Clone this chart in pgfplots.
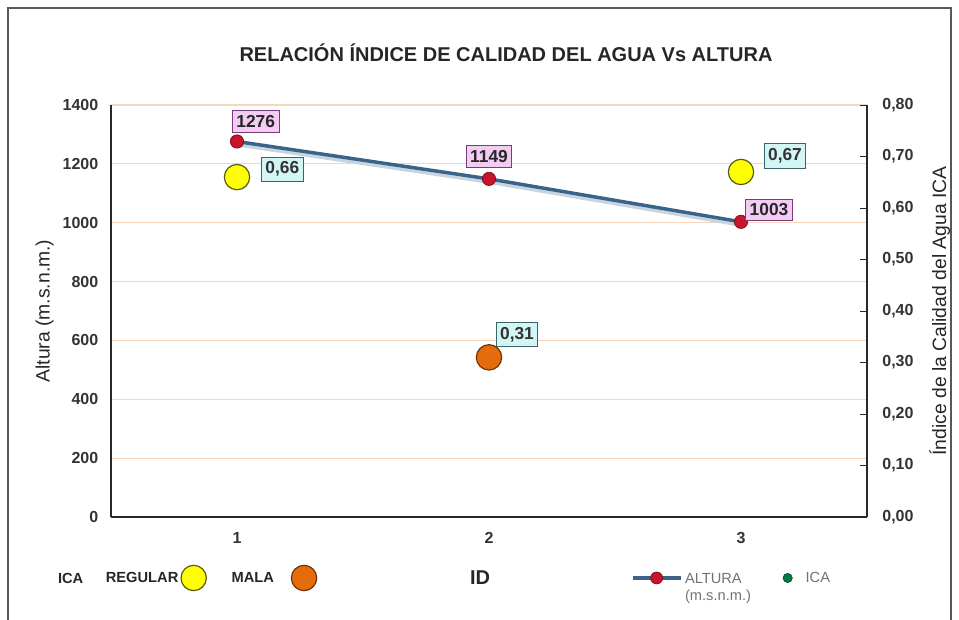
\documentclass[border=0pt]{standalone}
\usepackage{fontspec}
\setmainfont{Liberation Sans}
\usepackage{pgfplots}
\usepackage{pgfplotstable}
\pgfplotsset{compat=1.18}

\definecolor{gridc}{RGB}{246,214,188}
\definecolor{linec}{RGB}{58,100,135}
\definecolor{shadowc}{RGB}{200,212,224}
\definecolor{redm}{RGB}{200,20,45}
\definecolor{yel}{RGB}{255,255,0}
\definecolor{yelb}{RGB}{90,90,20}
\definecolor{ora}{RGB}{228,108,10}
\definecolor{orab}{RGB}{110,50,10}
\definecolor{pinkf}{RGB}{242,204,242}
\definecolor{pinkb}{RGB}{120,60,120}
\definecolor{cyanf}{RGB}{210,246,246}
\definecolor{cyanb}{RGB}{60,100,100}
\definecolor{greend}{RGB}{0,120,70}
\definecolor{axc}{RGB}{40,40,40}

\pgfplotstableread{
x y dx dy
1 1276 14 15
2 1149 0 17
3 1003 21 9
}\altura

\pgfplotstableread{
x y dx dy
1 0.66 34 6
3 0.67 33 12
}\regular

\pgfplotstableread{
x y dx dy
2 0.31 21 17
}\mala

\begin{document}
\begin{tikzpicture}
\useasboundingbox (0,0) rectangle (719.25pt,464.25pt);
\draw[gray!70!black, line width=0.8pt] (6pt,-5pt) -- (6pt,458.25pt) -- (713.25pt,458.25pt) -- (713.25pt,-5pt);

\node[font=\bfseries\fontsize{15}{17}\selectfont, text=black!85] at (379.5pt,424.5pt) {RELACIÓN ÍNDICE DE CALIDAD DEL AGUA Vs ALTURA};
\node[font=\bfseries\fontsize{15}{17}\selectfont, text=black!85] at (360pt,31pt) {ID};
\node[font=\bfseries\fontsize{11}{13}\selectfont, text=black!85, anchor=west] at (40pt,30.75pt) {ICA};

% Altura axis
\begin{axis}[
  at={(83.25pt,76.5pt)}, anchor=south west,
  scale only axis, width=567pt, height=309pt,
  xmin=0.5, xmax=3.5, ymin=0, ymax=1400,
  xtick={1,2,3}, ytick={0,200,...,1400},
  axis x line*=bottom, axis y line*=left,
  axis line style={axc, line width=0.9pt},
  x axis line style={-}, y axis line style={-},
  major tick length=0pt,
  ymajorgrids, major grid style={gridc, line width=0.8pt},
  ticklabel style={font=\bfseries\fontsize{12}{14}\selectfont, text=black!80},
  /pgf/number format/assume math mode=true,
  /pgf/number format/1000 sep={},
  yticklabel style={xshift=-6pt},
  xticklabel style={yshift=-8pt},
  ylabel={Altura (m.s.n.m.)},
  ylabel style={font=\fontsize{14.5}{16}\selectfont, text=black!85, yshift=0pt},
  legend style={at={(0.682,-0.148)}, anchor=west, draw=none, fill=none,
    font=\fontsize{11}{13}\selectfont, text=black!55, legend columns=2,
    /tikz/every even column/.append style={column sep=22pt}},
  clip=false,
]
\addplot[shadowc, line width=3.5pt, forget plot, yshift=-2pt] table[x=x,y=y] {\altura};
\addplot[linec, line width=2.6pt, mark=*, mark size=5pt,
  mark options={fill=redm, draw=redm!60!black, line width=0.5pt},
  legend image code/.code={
    \draw[linec, line width=2.6pt] (0pt,0pt) -- (36pt,0pt);
    \draw[fill=redm, draw=redm!60!black, line width=0.5pt] (18pt,0pt) circle (4.5pt);},
  nodes near coords,
  visualization depends on={\thisrow{dx}\as\dx},
  visualization depends on={\thisrow{dy}\as\dy},
  nodes near coords style={anchor=center, xshift=\dx pt, yshift=\dy pt,
    font=\bfseries\fontsize{13}{14}\selectfont, text=black!85,
    fill=pinkf, draw=pinkb, line width=0.6pt, inner xsep=3pt, inner ysep=3.5pt,
    /pgf/number format/.cd, fixed, precision=0, 1000 sep={}, assume math mode=true},
] table[x=x,y=y] {\altura};
\addlegendentry{\begin{tabular}[t]{@{}l@{}}ALTURA\\(m.s.n.m.)\end{tabular}}
\addlegendimage{only marks, mark=*, mark size=3.5pt, mark options={fill=greend, draw=greend!60!black}}
\addlegendentry{\hspace{8pt}ICA}
\end{axis}

% ICA axis
\begin{axis}[
  at={(83.25pt,76.5pt)}, anchor=south west,
  scale only axis, width=567pt, height=309pt,
  xmin=0.5, xmax=3.5, ymin=0, ymax=0.8,
  ytick={0,0.1,...,0.81},
  axis x line=none, axis y line*=right,
  axis line style={axc, line width=0.9pt, -},
  ytick style={axc, line width=0.6pt},
  major tick length=5pt,
  ticklabel style={font=\bfseries\fontsize{12}{14}\selectfont, text=black!80},
  yticklabel style={xshift=8pt, /pgf/number format/.cd, use comma, fixed, fixed zerofill, precision=2, assume math mode=true},
  ylabel={Índice de la Calidad del Agua ICA},
  ylabel style={font=\fontsize{14.5}{16}\selectfont, text=black!85, yshift=-5pt},
  legend style={at={(-0.016,-0.148)}, anchor=west, draw=none, fill=none,
    font=\bfseries\fontsize{11}{13}\selectfont, text=black!85, legend columns=2,
    /tikz/every even column/.append style={column sep=17pt}},
  legend plot pos=right,
  clip=false,
]
\addplot[only marks, mark=*, mark size=9.5pt,
  mark options={fill=yel, draw=yelb, line width=0.9pt},
  nodes near coords,
  visualization depends on={\thisrow{dx}\as\dx},
  visualization depends on={\thisrow{dy}\as\dy},
  nodes near coords style={anchor=center, xshift=\dx pt, yshift=\dy pt,
    font=\bfseries\fontsize{13}{14}\selectfont, text=black!80,
    fill=cyanf, draw=cyanb, line width=0.6pt, inner xsep=3pt, inner ysep=3.5pt,
    /pgf/number format/.cd, use comma, fixed, fixed zerofill, precision=2, assume math mode=true},
] table[x=x,y=y] {\regular};
\addlegendentry{REGULAR}
\addplot[only marks, mark=*, mark size=9.5pt,
  mark options={fill=ora, draw=orab, line width=0.9pt},
  nodes near coords,
  visualization depends on={\thisrow{dx}\as\dx},
  visualization depends on={\thisrow{dy}\as\dy},
  nodes near coords style={anchor=center, xshift=\dx pt, yshift=\dy pt,
    font=\bfseries\fontsize{13}{14}\selectfont, text=black!80,
    fill=cyanf, draw=cyanb, line width=0.6pt, inner xsep=3pt, inner ysep=3.5pt,
    /pgf/number format/.cd, use comma, fixed, fixed zerofill, precision=2, assume math mode=true},
] table[x=x,y=y] {\mala};
\addlegendentry{MALA\kern11pt}
\end{axis}
\end{tikzpicture}
\end{document}
